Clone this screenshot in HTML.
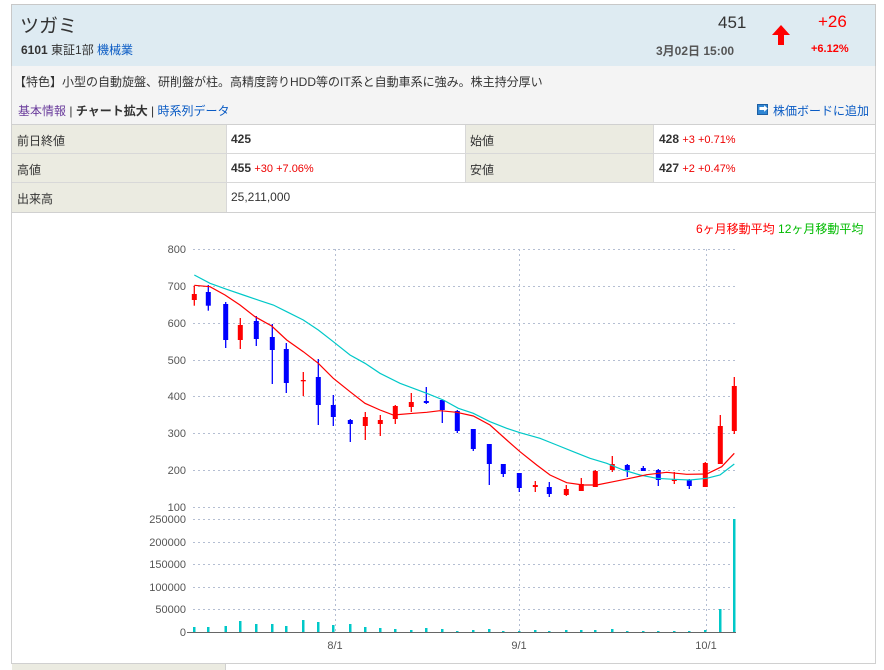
<!DOCTYPE html>
<html><head><meta charset="utf-8"><style>
body{margin:0;background:#fff;font-family:"Liberation Sans","Noto Sans CJK JP",sans-serif;font-size:12px;color:#333;}
.a{position:absolute;white-space:nowrap;}
.box{position:absolute;box-sizing:border-box;}
a{color:#0a5bc4;text-decoration:none}
</style></head><body>
<div style="position:relative;width:884px;height:670px;overflow:hidden;">
<div class="box" style="left:11px;top:4px;width:865px;height:63px;background:#deebf2;border:1px solid #c8c8c8;"></div>
<div class="a" style="left:20px;top:11px;font-size:19px;color:#333;">ツガミ</div>
<div class="a" style="left:21px;top:41px;font-size:12px;"><b>6101</b> 東証1部 <a>機械業</a></div>
<div class="a" style="left:718px;top:13px;font-size:17px;color:#333;">451</div>
<div class="a" style="left:656px;top:42px;font-size:12px;font-weight:bold;color:#555;">3月02日 15:00</div>
<svg class="a" style="left:771px;top:24px" width="20" height="22"><path d="M10 1 L19 11 L13 11 L13 21 L7 21 L7 11 L1 11 Z" fill="#f00"/></svg>
<div class="a" style="left:818px;top:12px;font-size:17px;color:#f00;">+26</div>
<div class="a" style="left:811px;top:43px;font-size:11px;font-weight:bold;color:#f00;">+6.12%</div>
<div class="box" style="left:11px;top:66px;width:865px;height:30px;background:#f4f4f4;border:1px solid #d0d0d0;border-top:none;"></div>
<div class="a" style="left:14px;top:73px;font-size:12px;">【特色】小型の自動旋盤、研削盤が柱。高精度誇りHDD等のIT系と自動車系に強み。株主持分厚い</div>
<div class="box" style="left:11px;top:95px;width:865px;height:30px;background:#f4f4f4;border:1px solid #d0d0d0;border-top:none;"></div>
<div class="a" style="left:18px;top:102px;font-size:12px;"><a style="color:#6a3c9c">基本情報</a> | <b>チャート拡大</b> | <a>時系列データ</a></div>
<div class="box" style="left:757px;top:104px;width:11px;height:11px;background:#2f86d4;border:1px solid #1d5fa3;"></div>
<div class="a" style="left:759px;top:102px;color:#fff;font-size:9px;">➡</div>
<div class="a" style="left:773px;top:102px;font-size:12px;"><a>株価ボードに追加</a></div>
<div class="box" style="left:11px;top:124px;width:865px;height:89px;border:1px solid #d0d0d0;border-top:none;"></div>
<div class="box" style="left:12px;top:125px;width:214px;height:87px;background:#ebebe1;"></div>
<div class="box" style="left:465px;top:125px;width:188px;height:58px;background:#ebebe1;"></div>
<div class="box" style="left:12px;top:153px;width:864px;height:1px;background:#d8d8d8;"></div>
<div class="box" style="left:12px;top:182px;width:864px;height:1px;background:#d8d8d8;"></div>
<div class="box" style="left:226px;top:125px;width:1px;height:87px;background:#d8d8d8;"></div>
<div class="box" style="left:465px;top:125px;width:1px;height:58px;background:#d8d8d8;"></div>
<div class="box" style="left:653px;top:125px;width:1px;height:58px;background:#d8d8d8;"></div>
<div class="a" style="left:17px;top:132px;">前日終値</div>
<div class="a" style="left:231px;top:132px;"><b>425</b></div>
<div class="a" style="left:470px;top:132px;">始値</div>
<div class="a" style="left:659px;top:132px;"><b>428</b> <span style="color:#e00;font-size:11px">+3 +0.71%</span></div>
<div class="a" style="left:17px;top:161px;">高値</div>
<div class="a" style="left:231px;top:161px;"><b>455</b> <span style="color:#e00;font-size:11px">+30 +7.06%</span></div>
<div class="a" style="left:470px;top:161px;">安値</div>
<div class="a" style="left:659px;top:161px;"><b>427</b> <span style="color:#e00;font-size:11px">+2 +0.47%</span></div>
<div class="a" style="left:17px;top:190px;">出来高</div>
<div class="a" style="left:231px;top:190px;">25,211,000</div>
<div class="box" style="left:11px;top:212px;width:865px;height:452px;border:1px solid #d0d0d0;border-top:none;"></div>
<div class="box" style="left:11px;top:663px;width:865px;height:10px;border-top:1px solid #d0d0d0;"></div>
<div class="box" style="left:12px;top:664px;width:214px;height:8px;background:#ebebe1;border-right:1px solid #d0d0d0;"></div>
<div class="a" style="left:696px;top:220px;font-size:12px;"><span style="color:#f00">6ヶ月移動平均</span> <span style="color:#0b0">12ヶ月移動平均</span></div>
<svg class="a" style="left:0;top:0" width="884" height="670" font-family="Liberation Sans,sans-serif" font-size="11" fill="#555">
<g stroke="#b4bed2" stroke-dasharray="2,3" stroke-width="1">
<line x1="193" y1="249.5" x2="736" y2="249.5"/><line x1="193" y1="286.5" x2="736" y2="286.5"/><line x1="193" y1="323.5" x2="736" y2="323.5"/><line x1="193" y1="360.5" x2="736" y2="360.5"/><line x1="193" y1="396.5" x2="736" y2="396.5"/><line x1="193" y1="433.5" x2="736" y2="433.5"/><line x1="193" y1="470.5" x2="736" y2="470.5"/><line x1="193" y1="507.5" x2="736" y2="507.5"/>
<line x1="193" y1="519.5" x2="736" y2="519.5"/><line x1="193" y1="542.5" x2="736" y2="542.5"/><line x1="193" y1="564.5" x2="736" y2="564.5"/><line x1="193" y1="587.5" x2="736" y2="587.5"/><line x1="193" y1="609.5" x2="736" y2="609.5"/>
<line x1="335.5" y1="249" x2="335.5" y2="632"/><line x1="519.5" y1="249" x2="519.5" y2="632"/><line x1="706.5" y1="249" x2="706.5" y2="632"/>
</g>
<line x1="187" y1="632.5" x2="736" y2="632.5" stroke="#666"/>
<g text-anchor="end">
<text x="186" y="253">800</text><text x="186" y="290">700</text><text x="186" y="327">600</text><text x="186" y="364">500</text><text x="186" y="400">400</text><text x="186" y="437">300</text><text x="186" y="474">200</text><text x="186" y="511">100</text>
<text x="186" y="523">250000</text><text x="186" y="546">200000</text><text x="186" y="568">150000</text><text x="186" y="591">100000</text><text x="186" y="613">50000</text><text x="186" y="636">0</text>
</g>
<g text-anchor="middle"><text x="335" y="649">8/1</text><text x="519" y="649">9/1</text><text x="706" y="649">10/1</text></g>
<g fill="#00c8c8">
<rect x="193" y="627" width="2.5" height="5"/><rect x="207" y="627" width="2.5" height="5"/><rect x="224.5" y="626" width="2.5" height="6"/><rect x="239" y="621" width="2.5" height="11"/><rect x="255" y="624" width="2.5" height="8"/><rect x="271" y="624" width="2.5" height="8"/><rect x="285" y="626" width="2.5" height="6"/><rect x="302" y="620" width="2.5" height="12"/><rect x="317" y="622" width="2.5" height="10"/><rect x="332" y="625" width="2.5" height="7"/><rect x="349" y="624" width="2.5" height="8"/><rect x="364" y="627" width="2.5" height="5"/><rect x="379" y="628" width="2.5" height="4"/><rect x="394" y="629" width="2.5" height="3"/><rect x="410" y="630" width="2.5" height="2"/><rect x="425" y="628" width="2.5" height="4"/><rect x="441" y="629" width="2.5" height="3"/><rect x="456" y="631" width="2.5" height="1"/><rect x="472" y="630" width="2.5" height="2"/><rect x="488" y="629" width="2.5" height="3"/><rect x="502" y="631" width="2.5" height="1"/><rect x="518" y="631" width="2.5" height="1"/><rect x="534" y="630" width="2.5" height="2"/><rect x="548" y="631" width="2.5" height="1"/><rect x="565" y="630" width="2.5" height="2"/><rect x="580" y="630" width="2.5" height="2"/><rect x="594" y="630" width="2.5" height="2"/><rect x="611" y="629" width="2.5" height="3"/><rect x="626" y="631" width="2.5" height="1"/><rect x="642" y="631" width="2.5" height="1"/><rect x="657" y="631" width="2.5" height="1"/><rect x="673" y="631" width="2.5" height="1"/><rect x="688" y="631" width="2.5" height="1"/><rect x="704" y="630" width="2.5" height="2"/><rect x="719" y="609" width="2.5" height="23"/><rect x="733" y="519" width="2.5" height="113"/>
</g>
<g stroke-width="1.3">
<line x1="194.3" y1="285.7" x2="194.3" y2="305.7" stroke="#f00"/>
<line x1="208.3" y1="285" x2="208.3" y2="310.7" stroke="#00f"/>
<line x1="225.7" y1="302" x2="225.7" y2="348" stroke="#00f"/>
<line x1="240.3" y1="318" x2="240.3" y2="349" stroke="#f00"/>
<line x1="256.3" y1="316" x2="256.3" y2="346" stroke="#00f"/>
<line x1="272.3" y1="324" x2="272.3" y2="384" stroke="#00f"/>
<line x1="286.3" y1="343" x2="286.3" y2="393" stroke="#00f"/>
<line x1="303.3" y1="372" x2="303.3" y2="396" stroke="#f00"/>
<line x1="318.3" y1="359" x2="318.3" y2="425" stroke="#00f"/>
<line x1="333.3" y1="395" x2="333.3" y2="426" stroke="#00f"/>
<line x1="350.3" y1="419" x2="350.3" y2="442" stroke="#00f"/>
<line x1="365.3" y1="412" x2="365.3" y2="440" stroke="#f00"/>
<line x1="380.3" y1="415" x2="380.3" y2="436" stroke="#f00"/>
<line x1="395.3" y1="405" x2="395.3" y2="424" stroke="#f00"/>
<line x1="411.3" y1="393" x2="411.3" y2="412" stroke="#f00"/>
<line x1="426.3" y1="387" x2="426.3" y2="404" stroke="#00f"/>
<line x1="442.3" y1="400" x2="442.3" y2="423" stroke="#00f"/>
<line x1="457.3" y1="410" x2="457.3" y2="433" stroke="#00f"/>
<line x1="473.3" y1="429" x2="473.3" y2="451" stroke="#00f"/>
<line x1="489.3" y1="444" x2="489.3" y2="485" stroke="#00f"/>
<line x1="503.3" y1="464" x2="503.3" y2="477" stroke="#00f"/>
<line x1="519.3" y1="473" x2="519.3" y2="492" stroke="#00f"/>
<line x1="535.3" y1="481" x2="535.3" y2="492" stroke="#f00"/>
<line x1="549.3" y1="482" x2="549.3" y2="497" stroke="#00f"/>
<line x1="566.3" y1="485" x2="566.3" y2="496" stroke="#f00"/>
<line x1="581.3" y1="478" x2="581.3" y2="491" stroke="#f00"/>
<line x1="595.3" y1="470" x2="595.3" y2="487" stroke="#f00"/>
<line x1="612.3" y1="456" x2="612.3" y2="472" stroke="#f00"/>
<line x1="627.3" y1="464" x2="627.3" y2="477" stroke="#00f"/>
<line x1="643.3" y1="466" x2="643.3" y2="471" stroke="#00f"/>
<line x1="658.3" y1="469" x2="658.3" y2="486" stroke="#00f"/>
<line x1="674.3" y1="472" x2="674.3" y2="484" stroke="#f00"/>
<line x1="689.3" y1="479" x2="689.3" y2="489" stroke="#00f"/>
<line x1="705.3" y1="462" x2="705.3" y2="487" stroke="#f00"/>
<line x1="720.3" y1="415" x2="720.3" y2="464" stroke="#f00"/>
<line x1="734.3" y1="377" x2="734.3" y2="434" stroke="#f00"/>
</g>
<g>
<rect x="191.8" y="294" width="5" height="6" fill="#f00"/>
<rect x="205.8" y="292" width="5" height="13.7" fill="#00f"/>
<rect x="223.2" y="304" width="5" height="36" fill="#00f"/>
<rect x="237.8" y="325" width="5" height="15" fill="#f00"/>
<rect x="253.8" y="321" width="5" height="18" fill="#00f"/>
<rect x="269.8" y="337" width="5" height="13" fill="#00f"/>
<rect x="283.8" y="349" width="5" height="34" fill="#00f"/>
<rect x="300.8" y="380" width="5" height="1.3" fill="#f00"/>
<rect x="315.8" y="377" width="5" height="28" fill="#00f"/>
<rect x="330.8" y="405" width="5" height="12" fill="#00f"/>
<rect x="347.8" y="420" width="5" height="4" fill="#00f"/>
<rect x="362.8" y="417" width="5" height="9" fill="#f00"/>
<rect x="377.8" y="420" width="5" height="4" fill="#f00"/>
<rect x="392.8" y="406" width="5" height="13" fill="#f00"/>
<rect x="408.8" y="402" width="5" height="5" fill="#f00"/>
<rect x="423.8" y="401" width="5" height="2" fill="#00f"/>
<rect x="439.8" y="400" width="5" height="10" fill="#00f"/>
<rect x="454.8" y="411" width="5" height="20" fill="#00f"/>
<rect x="470.8" y="429" width="5" height="20" fill="#00f"/>
<rect x="486.8" y="444" width="5" height="20" fill="#00f"/>
<rect x="500.8" y="464" width="5" height="10" fill="#00f"/>
<rect x="516.8" y="473" width="5" height="15" fill="#00f"/>
<rect x="532.8" y="485" width="5" height="2" fill="#f00"/>
<rect x="546.8" y="487" width="5" height="7" fill="#00f"/>
<rect x="563.8" y="489" width="5" height="6" fill="#f00"/>
<rect x="578.8" y="484" width="5" height="7" fill="#f00"/>
<rect x="592.8" y="471" width="5" height="16" fill="#f00"/>
<rect x="609.8" y="464" width="5" height="6" fill="#f00"/>
<rect x="624.8" y="465" width="5" height="5" fill="#00f"/>
<rect x="640.8" y="468" width="5" height="3" fill="#00f"/>
<rect x="655.8" y="470" width="5" height="10" fill="#00f"/>
<rect x="671.8" y="479" width="5" height="2" fill="#f00"/>
<rect x="686.8" y="480" width="5" height="6" fill="#00f"/>
<rect x="702.8" y="463" width="5" height="24" fill="#f00"/>
<rect x="717.8" y="426" width="5" height="38" fill="#f00"/>
<rect x="731.8" y="386" width="5" height="45" fill="#f00"/>
</g>
<polyline fill="none" stroke="#00c8c8" stroke-width="1.2" points="194.3,275 210,283.3 226.7,289.3 243.3,295 260,300.7 273.3,305 286.7,311.7 303.3,320 318.3,330 333.3,341.7 350,355 365,363.3 380,373.3 400,383.3 426.7,393.3 443.3,400 458.3,408.3 473.3,413.3 490,421.7 506.7,428.3 520,432.7 540,438.3 556.7,445 573.3,451.7 590,458.3 606.7,463.3 623.3,470 640,475 656.7,478.3 673.3,479.3 690,480 706.7,478.3 720,475 734.3,464"/>
<polyline fill="none" stroke="#f00" stroke-width="1.2" points="194.3,285.3 210,286.7 225,295 240,305 255,316.7 271.7,326 286.7,340 303.3,351.7 318.3,363.3 333.3,378.3 350,391.7 365,403.3 380,410 393.3,415 413.3,413.3 426.7,412.3 440,410.7 456.7,412.3 473.3,416 490,425 506.7,440 520,451.7 536.7,465 550,475 566.7,482.7 583.3,485 596.7,485 613.3,481.7 630,478.3 646.7,474.7 666.7,472.3 686.7,474.3 706.7,474 721.7,466.7 734.3,453.3"/>
</svg>
</div>
</body></html>
